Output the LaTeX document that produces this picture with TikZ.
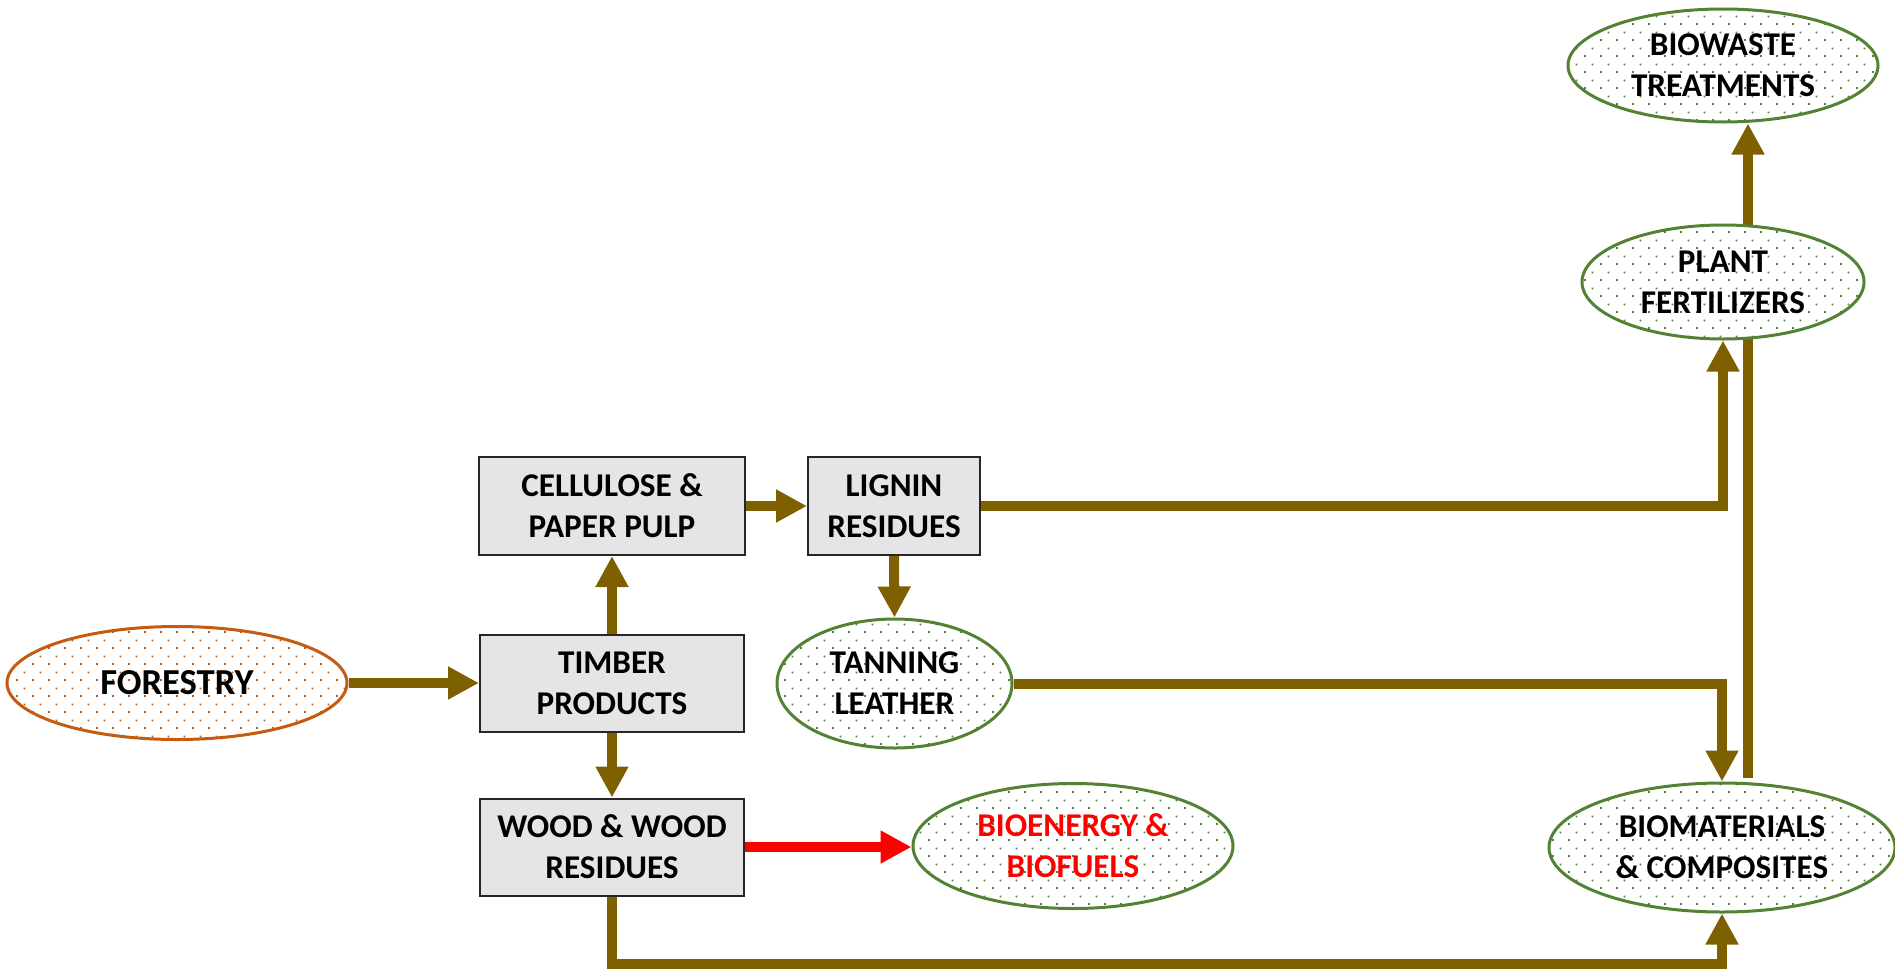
\documentclass[tikz,border=0pt]{standalone}
\usepackage{fontspec}
\setmainfont{Carlito}
\usetikzlibrary{arrows.meta,shapes.geometric,patterns,backgrounds,calc}

% sparse staggered dot fill
\pgfdeclarepatternformonly{sparsedots}{\pgfpointorigin}{\pgfqpoint{8pt}{8pt}}{\pgfqpoint{8pt}{8pt}}{%
  \pgfpathrectangle{\pgfqpoint{0pt}{0pt}}{\pgfqpoint{1pt}{1pt}}%
  \pgfpathrectangle{\pgfqpoint{4pt}{4pt}}{\pgfqpoint{1pt}{1pt}}%
  \pgfusepath{fill}}

\definecolor{arrowbrown}{RGB}{127,96,0}
\definecolor{leafgreen}{RGB}{84,130,53}
\definecolor{rust}{RGB}{197,90,17}
\definecolor{boxgray}{RGB}{229,229,229}

\newcommand\diagfont{\fontsize{16.6}{20.5}\selectfont\bfseries}

\tikzset{
  procbox/.style={draw=black!85, line width=1pt, fill=boxgray, align=center,
    inner sep=0pt, font=\diagfont, execute at begin node={\rule{0pt}{17.6pt}}},
  oval/.style={ellipse, draw=leafgreen, line width=1.5pt, preaction={fill=white},
    pattern=sparsedots, pattern color=leafgreen, align=center, inner sep=0pt,
    font=\diagfont},
  flow/.style={draw=arrowbrown, line width=5pt, line join=miter,
    -{Triangle[length=15.5pt,width=15.5pt]}},
  hotflow/.style={flow, draw=red},
}

\begin{document}
\begin{tikzpicture}[x=0.5pt,y=-0.5pt]
\useasboundingbox (0,0) rectangle (1895,969);

% source
\node[oval, draw=rust, pattern color=rust, minimum width=170pt, minimum height=56.5pt,
      font=\fontsize{18.3}{22}\selectfont\bfseries] (forestry) at (177,683) {FORESTRY};

% processing boxes
\node[procbox, minimum width=132pt, minimum height=48.5pt] (timber) at (612,683) {TIMBER\\PRODUCTS};
\node[procbox, minimum width=133pt, minimum height=49pt] (cellulose) at (612,506) {CELLULOSE \&\\PAPER PULP};
\node[procbox, minimum width=86pt, minimum height=49pt] (lignin) at (894,506) {LIGNIN\\RESIDUES};
\node[procbox, minimum width=132pt, minimum height=48.5pt] (wood) at (612,847) {WOOD \& WOOD\\RESIDUES};

% products
\node[oval, minimum width=117.5pt, minimum height=64.5pt] (tanning) at (894.5,683.5) {TANNING\\LEATHER};
\node[oval, minimum width=160pt, minimum height=62.5pt, text=red] (bioenergy) at (1073,846) {BIOENERGY \&\\BIOFUELS};
\node[oval, minimum width=173pt, minimum height=64.5pt] (biomat) at (1722,847.5) {BIOMATERIALS\\\& COMPOSITES};
\node[oval, minimum width=141pt, minimum height=57pt] (plant) at (1723,282) {PLANT\\FERTILIZERS};
\node[oval, minimum width=155pt, minimum height=56.5pt] (biowaste) at (1723,65.5) {BIOWASTE\\TREATMENTS};

\coordinate (low) at (0,964);
\coordinate (riser) at ($(biomat.north)+(26,-4)$);

\begin{scope}[on background layer]
  \draw[flow] (forestry.east) -- (forestry.east -| timber.west);
  \draw[flow] (timber.north) -- (cellulose.south);
  \draw[flow] (timber.south) -- (wood.north);
  \draw[flow] (cellulose.east) -- (lignin.west);
  \draw[flow] (lignin.south) -- (tanning.north);
  \draw[flow] (lignin.east) -| (plant.south);
  \draw[flow] (tanning.east) -| (biomat.north);
  \draw[flow] (wood.south) -- (wood.south |- low) -| (biomat.south);
  \draw[flow] (riser) -- (riser |- biowaste.south);
  \draw[hotflow] (wood.east) -- (wood.east -| bioenergy.west);
\end{scope}
\end{tikzpicture}
\end{document}
